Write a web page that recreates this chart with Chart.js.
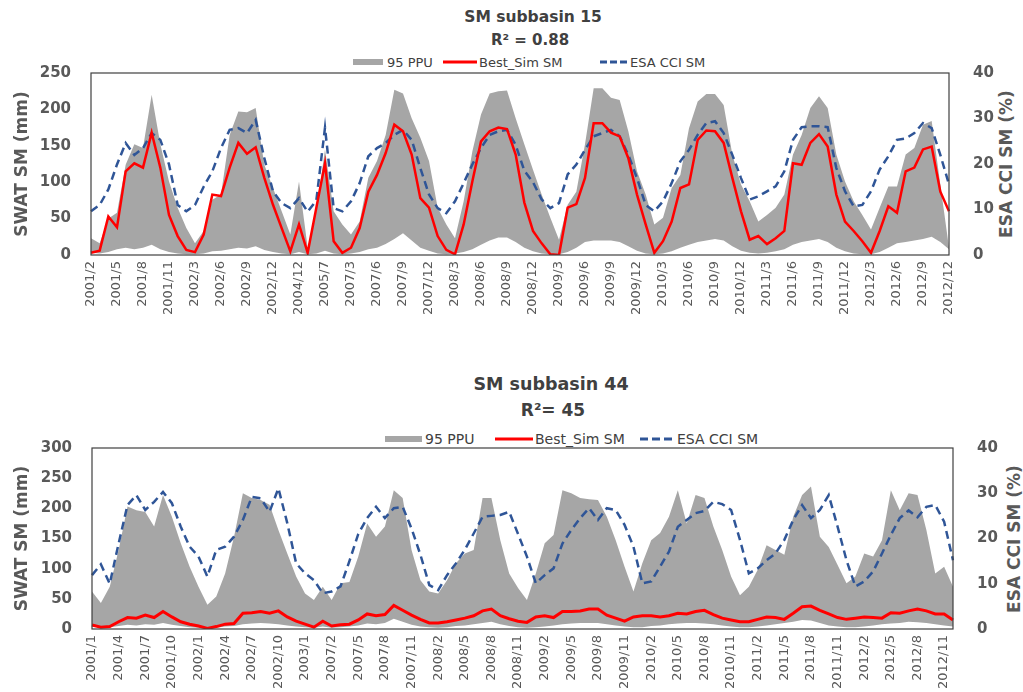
<!DOCTYPE html>
<html>
<head>
<meta charset="utf-8">
<script src="https://cdn.jsdelivr.net/npm/chart.js@4.4.1/dist/chart.umd.min.js"></script>
<style>
    body { margin: 0; width: 1023px; height: 692px; overflow: hidden; background: #fff; position: relative; font-family: 'DejaVu Sans', sans-serif; }
    .wrap { position: absolute; left: 0; width: 1023px; }
    .ttl { position: absolute; font-weight: bold; color: #404040; white-space: nowrap; transform: translate(-50%, -50%); }
    .lt { position: absolute; color: #404040; white-space: nowrap; transform: translateY(-50%); }
    .mk { position: absolute; transform: translateY(-50%); }
    .rt { position: absolute; font-weight: bold; color: #595959; white-space: nowrap; transform: translate(-50%, -50%) rotate(-90deg); }
</style>
</head>
<body>

<div class="ttl" style="left:533px;top:17px;font-size:15.5px">SM subbasin 15</div>
<div class="ttl" style="left:530px;top:40px;font-size:15px">R² = 0.88</div>
<div class="mk" style="left:353px;top:62px;width:30px;height:6px;background:#a6a6a6"></div>
<div class="lt" style="left:387px;top:62px;font-size:13px">95 PPU</div>
<div class="mk" style="left:443px;top:62px;width:34px;height:3px;background:#ff0000"></div>
<div class="lt" style="left:479px;top:62px;font-size:13px">Best_Sim SM</div>
<div class="mk" style="left:600px;top:62px;width:27px;height:3px;background:repeating-linear-gradient(90deg,#2f5597 0 7px,transparent 7px 10px)"></div>
<div class="lt" style="left:630px;top:62px;font-size:13px">ESA CCI SM</div>
<div class="rt" style="left:1006px;top:164px;font-size:17px">ESA CCI SM (%)</div>

<div class="ttl" style="left:551px;top:384px;font-size:17.5px">SM subbasin 44</div>
<div class="ttl" style="left:553px;top:410px;font-size:17px">R²= 45</div>
<div class="mk" style="left:385px;top:439px;width:37px;height:6px;background:#a6a6a6"></div>
<div class="lt" style="left:425px;top:439px;font-size:14px">95 PPU</div>
<div class="mk" style="left:495px;top:439px;width:38px;height:3px;background:#ff0000"></div>
<div class="lt" style="left:535px;top:439px;font-size:14px">Best_Sim SM</div>
<div class="mk" style="left:640px;top:439px;width:33px;height:3px;background:repeating-linear-gradient(90deg,#2f5597 0 8px,transparent 8px 12px)"></div>
<div class="lt" style="left:677px;top:439px;font-size:14px">ESA CCI SM</div>
<div class="rt" style="left:1014px;top:539px;font-size:17px">ESA CCI SM (%)</div>

<div class="wrap" style="top:0;height:340px"><canvas id="chart15"></canvas></div>
<div class="wrap" style="top:350px;height:360px"><canvas id="chart44"></canvas></div>

<script>
// Месяцы в формате "год/месяц"
function monthRange(y, m, y1, m1) {
    const out = [];
    while (y < y1 || (y === y1 && m <= m1)) {
        out.push(y + '/' + m);
        m++;
        if (m > 12) { m = 1; y++; }
    }
    return out;
}

// ---- subbasin 15 ----
const months15 = [
    ...monthRange(2001, 2, 2001, 12), '2002/2', ...monthRange(2002, 3, 2003, 1),
    '2004/11', '2004/12', '2005/1', '2005/6', '2005/7', '2005/8',
    ...monthRange(2007, 2, 2012, 12)
];
const ppuLow15 = [
    3, 2, 4, 8, 10, 8, 10, 14, 8, 4, 2, 1,
    1, 2, 5, 6, 8, 10, 9, 12, 7, 4, 2, 1,
    4, 1, 2, 6, 2, 1,
    2, 4, 8, 10, 15, 22, 30, 20, 10, 6, 2, 1,
    2, 4, 8, 14, 20, 24, 24, 18, 10, 5, 2, 1,
    1, 4, 10, 18, 20, 20, 20, 18, 12, 6, 2, 1,
    2, 5, 10, 14, 18, 20, 22, 20, 12, 6, 3, 2,
    3, 5, 8, 14, 18, 20, 22, 18, 10, 5, 2, 1,
    1, 4, 10, 16, 18, 20, 22, 25, 18, 8
];
const ppuHigh15 = [
    23, 16, 50, 58, 124, 152, 147, 220, 152, 101, 65, 37,
    16, 33, 76, 83, 165, 197, 196, 202, 124, 92, 60, 28,
    101, 10, 60, 145, 60, 42,
    28, 46, 106, 129, 165, 227, 222, 188, 161, 129, 65, 42,
    23, 74, 142, 193, 222, 225, 226, 188, 152, 117, 83, 51,
    21, 69, 87, 152, 229, 229, 216, 213, 170, 115, 83, 42,
    51, 92, 110, 174, 211, 221, 221, 206, 138, 97, 74, 46,
    55, 65, 83, 138, 165, 202, 218, 202, 138, 101, 74, 55,
    35, 65, 94, 94, 138, 147, 179, 184, 97, 10
];
const bestSim15 = [
    3, 6, 53, 38, 115, 126, 120, 168, 120, 55, 26, 7,
    4, 28, 83, 81, 120, 154, 139, 148, 106, 69, 37, 5,
    42, 3, 65, 126, 19, 3,
    10, 37, 87, 110, 140, 179, 170, 138, 78, 65, 26, 7,
    1, 42, 101, 156, 170, 175, 173, 138, 72, 33, 16, 1,
    0, 65, 70, 106, 181, 181, 168, 163, 133, 83, 42, 3,
    19, 46, 92, 97, 158, 171, 170, 154, 106, 60, 21, 26,
    15, 23, 33, 126, 124, 154, 166, 149, 83, 46, 33, 19,
    3, 33, 67, 58, 115, 120, 145, 149, 87, 60
];
const esa15 = [
    9.6, 11, 14.4, 19.9, 24.6, 22, 23.5, 26.8, 25.3, 19.9, 11, 9.6,
    11, 15, 18.4, 23.5, 27.5, 27.9, 26.8, 29.7, 21.3, 14, 11.4, 10.3,
    12.5, 9.5, 12, 28, 10.3, 9.6,
    11.8, 15.8, 21.7, 23.5, 24.6, 26.4, 27.5, 25.3, 19.1, 13.3, 10.3, 9.2,
    11.8, 15.8, 19.9, 23.5, 26.4, 27.2, 27.5, 24.2, 18.5, 16, 12.2, 10.3,
    11.4, 17.7, 19.9, 23.1, 26.1, 26.8, 27.5, 26.1, 22, 16.9, 11, 9.6,
    11.8, 15.8, 20.6, 23.1, 26.4, 29, 29.4, 26.8, 22, 16.9, 12.2, 12.9,
    14, 15.1, 18.4, 25.3, 28.1, 28.3, 28.3, 28.1, 19.1, 14, 10.7, 11,
    14, 18.8, 21.7, 25.3, 25.6, 26.8, 29, 27.9, 22, 15.5
];

// ---- subbasin 44 ----
const months44 = [...monthRange(2001, 1, 2003, 2), '2007/1', ...monthRange(2007, 2, 2012, 12)];
const ppuLow44 = [
    4, 3, 3, 5, 7, 6, 8, 7, 10, 7, 5, 3,
    2, 1, 2, 4, 5, 8, 9, 10, 9, 8, 6, 4, 3, 2,
    4, 2, 3, 4, 6, 9, 8, 10, 17, 12, 7, 4,
    3, 2, 3, 5, 6, 8, 10, 12, 8, 5, 3, 2,
    3, 4, 6, 8, 9, 10, 10, 10, 8, 6, 4, 3,
    3, 5, 6, 8, 9, 10, 10, 9, 8, 6, 4, 3,
    3, 4, 6, 8, 10, 12, 15, 14, 10, 6, 4, 3,
    3, 4, 6, 8, 9, 10, 12, 11, 10, 8, 6, 4
];
const ppuHigh44 = [
    62, 43, 70, 131, 203, 197, 194, 170, 222, 186, 142, 103,
    70, 40, 54, 92, 153, 225, 217, 214, 206, 164, 125, 87, 59, 48,
    70, 48, 76, 78, 120, 175, 153, 170, 230, 217, 131, 81,
    62, 59, 81, 109, 125, 131, 217, 217, 147, 92, 68, 48,
    92, 142, 156, 230, 225, 217, 215, 214, 186, 147, 103, 62,
    109, 147, 159, 186, 230, 175, 222, 217, 170, 131, 87, 56,
    70, 98, 139, 131, 123, 186, 222, 236, 153, 136, 106, 76,
    87, 125, 120, 147, 230, 197, 225, 222, 164, 92, 103, 70
];
const bestSim44 = [
    6.6, 3, 4, 12, 19, 18, 23, 19, 29, 20, 12, 8,
    5, 1, 4, 8, 9, 26, 27, 29, 26, 30, 20, 13, 8, 3,
    13, 5, 7, 8, 15, 25, 22, 24, 39, 31, 23, 16,
    10, 10, 12, 15, 18, 22, 30, 33, 22, 17, 13, 11,
    20, 22, 19, 29, 29, 30, 33, 33, 23, 18, 13, 20,
    22, 22, 20, 22, 26, 25, 29, 31, 24, 18, 15, 12,
    12, 16, 20, 19, 16, 26, 37, 38, 31, 25, 19, 16,
    18, 20, 19, 18, 27, 26, 30, 33, 30, 25, 25, 15
];
const esa44 = [
    11.9, 14.3, 10, 18.9, 27.4, 29.6, 26.3, 28.1, 30.3, 27.8, 22.6, 18.2,
    16, 11.6, 17.5, 18.2, 20.4, 24.1, 29.2, 28.9, 25.9, 31.1, 23.4, 14.5, 12.3, 10.8,
    7.9, 8.3, 9.4, 15, 21, 24.5, 27, 24.5, 26.7, 27, 22.2, 16.4,
    9.7, 8.6, 11.9, 14.5, 17.5, 21.1, 24.8, 25, 25.2, 25.9, 21, 16,
    10.1, 11.9, 13.4, 18.9, 21.9, 24.5, 26.7, 24.1, 26.7, 26.3, 23, 18.2,
    10.1, 10.5, 13.8, 17.1, 22.6, 24.1, 25.6, 26.1, 28.1, 27.6, 26.3, 19.7,
    12.3, 13.4, 15.2, 16.7, 19.7, 24.1, 27.4, 24.5, 26.3, 29.6, 22.6, 15.2,
    9.4, 10.5, 12.7, 16.7, 20.8, 24.5, 26.2, 24.7, 27, 27.4, 23.7, 15.2
];

Chart.defaults.font.family = "'DejaVu Sans', sans-serif";

// Рамка вокруг области графика
const frame = {
    id: 'frame',
    afterDatasetsDraw(chart) {
        const { ctx, chartArea: a } = chart;
        ctx.save();
        ctx.strokeStyle = '#404040';
        ctx.lineWidth = 1.2;
        ctx.strokeRect(a.left, a.top, a.right - a.left, a.bottom - a.top);
        ctx.restore();
    }
};

function makeChart(id, o) {
    const ctx = document.getElementById(id).getContext('2d');
    return new Chart(ctx, {
        type: 'line',
        data: {
            labels: o.labels,
            datasets: [
                { label: 'low', data: o.low, borderWidth: 0, pointRadius: 0, fill: false, order: 4 },
                { label: '95 PPU', data: o.high, borderWidth: 0, pointRadius: 0, fill: '-1', backgroundColor: '#a6a6a6', order: 3 },
                { label: 'Best_Sim SM', data: o.sim, borderColor: '#ff0000', borderWidth: o.lw, pointRadius: 0, fill: false, order: 1 },
                { label: 'ESA CCI SM', data: o.esa, yAxisID: 'y1', borderColor: '#2f5597', borderWidth: 2.5, borderDash: [8, 5], pointRadius: 0, fill: false, order: 2 }
            ]
        },
        options: {
            responsive: true,
            maintainAspectRatio: false,
            animation: false,
            layout: { padding: { top: o.top, left: 0, right: 0, bottom: 0 } },
            plugins: {
                legend: { display: false },
                tooltip: { enabled: false }
            },
            scales: {
                x: {
                    offset: false,
                    grid: { display: false, drawTicks: false },
                    border: { display: false },
                    ticks: {
                        autoSkip: false, minRotation: 90, maxRotation: 90, padding: 6,
                        color: '#595959', font: { size: 13 },
                        callback: (v, i) => (i % 3 === 0 ? o.labels[i] : null)
                    },
                    afterFit: s => { s.height = o.xh; }
                },
                y: {
                    position: 'left', min: 0, max: o.ymax,
                    grid: { display: false, drawTicks: false },
                    border: { display: false },
                    ticks: { stepSize: 50, padding: 20, color: '#595959', font: { size: 15, weight: 'bold' } },
                    title: { display: true, text: 'SWAT SM (mm)', color: '#595959', font: { size: 17, weight: 'bold' }, padding: { top: 12, bottom: 0 } },
                    afterFit: s => { s.width = o.lw1; }
                },
                y1: {
                    position: 'right', min: 0, max: 40,
                    grid: { display: false, drawTicks: false },
                    border: { display: false },
                    ticks: { stepSize: 10, padding: 24, color: '#595959', font: { size: 15, weight: 'bold' } },
                    afterFit: s => { s.width = o.rw; }
                }
            }
        },
        plugins: [frame]
    });
}

makeChart('chart15', { labels: months15, low: ppuLow15, high: ppuHigh15, sim: bestSim15, esa: esa15,
    ymax: 250, top: 73, xh: 85, lw1: 91, rw: 74, lw: 2.5 });
makeChart('chart44', { labels: months44, low: ppuLow44, high: ppuHigh44, sim: bestSim44, esa: esa44,
    ymax: 300, top: 98, xh: 81, lw1: 92, rw: 70, lw: 3 });
</script>
</body>
</html>
